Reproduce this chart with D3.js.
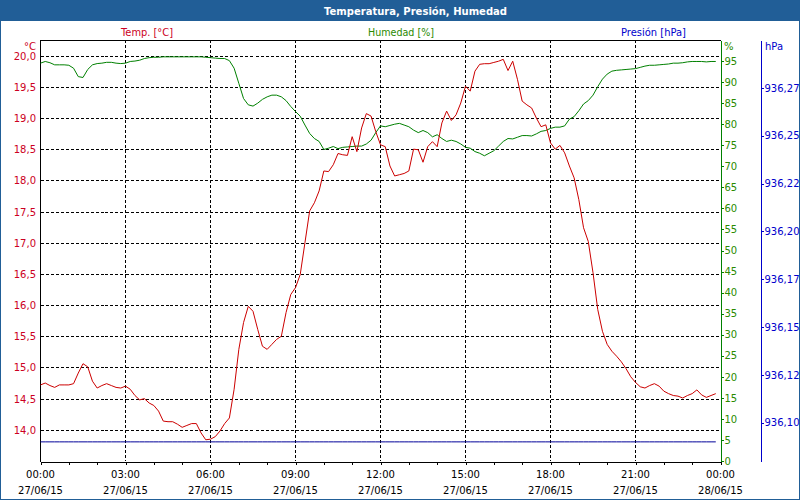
<!DOCTYPE html>
<html>
<head>
<meta charset="utf-8">
<script src="https://cdn.jsdelivr.net/npm/d3@7"></script>
<style>
  body { margin: 0; background: #fff; }
  svg { display: block; font-family: "DejaVu Sans", Verdana, sans-serif; }
</style>
</head>
<body>
<div id="chart"></div>
<script>
// readings every 10 minutes, 27/06/15 00:00 .. 23:50
var temperatura = [
    14.72, 14.75, 14.71, 14.68, 14.72, 14.72, 14.72, 14.74, 14.91, 15.06,
    15.01, 14.78, 14.67, 14.71, 14.74, 14.71, 14.68, 14.67, 14.70, 14.65,
    14.55, 14.48, 14.50, 14.43, 14.39, 14.30, 14.14, 14.13, 14.13, 14.09,
    14.04, 14.07, 14.10, 14.10, 13.95, 13.84, 13.85, 13.89, 13.98, 14.10,
    14.19, 14.65, 15.29, 15.72, 15.98, 15.90, 15.61, 15.34, 15.29, 15.37,
    15.45, 15.50, 15.88, 16.17, 16.28, 16.49, 17.00, 17.51, 17.64, 17.83,
    18.15, 18.14, 18.25, 18.43, 18.41, 18.40, 18.70, 18.46, 18.84, 19.07,
    19.03, 18.78, 18.57, 18.54, 18.23, 18.07, 18.09, 18.11, 18.15, 18.50,
    18.49, 18.29, 18.54, 18.62, 18.54, 18.92, 19.11, 18.96, 19.05, 19.24,
    19.51, 19.43, 19.75, 19.86, 19.87, 19.87, 19.89, 19.91, 19.94, 19.76,
    19.91, 19.62, 19.27, 19.21, 19.16, 19.00, 18.86, 18.89, 18.60, 18.50,
    18.56, 18.44, 18.23, 18.04, 17.69, 17.24, 17.02, 16.52, 15.93, 15.58,
    15.37, 15.26, 15.18, 15.09, 14.98, 14.85, 14.76, 14.69, 14.67, 14.71,
    14.74, 14.70, 14.62, 14.58, 14.55, 14.54, 14.51, 14.55, 14.58, 14.64,
    14.56, 14.52, 14.55, 14.58
];

var humedad = [
    94.5, 94.9, 94.6, 94.1, 94.1, 94.1, 94.0, 93.3, 91.3, 91.1,
    93.0, 94.1, 94.4, 94.5, 94.7, 94.7, 94.5, 94.4, 94.5, 94.9,
    95.0, 95.2, 95.6, 95.8, 95.9, 95.9, 96.0, 96.0, 96.0, 96.0,
    96.0, 96.0, 96.0, 96.0, 96.0, 95.9, 95.8, 95.7, 95.6, 95.6,
    95.1, 93.3, 89.7, 86.1, 84.6, 84.3, 85.0, 85.9, 86.5, 86.9,
    86.9, 86.5, 85.6, 84.2, 83.0, 81.9, 79.8, 77.8, 76.6, 75.9,
    74.0, 74.3, 74.7, 74.2, 74.5, 74.6, 74.7, 74.8, 74.8, 75.3,
    76.2, 78.0, 79.6, 79.4, 79.7, 80.0, 80.2, 79.8, 79.4, 78.6,
    78.0, 78.5, 78.0, 77.0, 77.5, 76.6, 75.9, 76.2, 75.9, 75.3,
    74.5, 74.3, 73.5, 73.1, 72.5, 73.1, 73.7, 74.8, 75.9, 76.6,
    76.5, 76.9, 77.3, 77.3, 77.2, 77.7, 78.3, 78.5, 79.0, 79.3,
    79.3, 79.6, 81.2, 81.8, 83.2, 84.8, 85.6, 86.9, 88.9, 90.7,
    91.9, 92.6, 92.8, 92.9, 93.0, 93.1, 93.2, 93.5, 93.8, 94.0,
    94.0, 94.1, 94.2, 94.3, 94.5, 94.5, 94.6, 94.8, 94.9, 94.9,
    94.9, 94.8, 94.9, 94.9
];

var presion = [
    936.09, 936.09, 936.09, 936.09, 936.09, 936.09, 936.09, 936.09, 936.09, 936.09, 936.09, 936.09,
    936.09, 936.09, 936.09, 936.09, 936.09, 936.09, 936.09, 936.09, 936.09, 936.09, 936.09, 936.09,
    936.09, 936.09, 936.09, 936.09, 936.09, 936.09, 936.09, 936.09, 936.09, 936.09, 936.09, 936.09,
    936.09, 936.09, 936.09, 936.09, 936.09, 936.09, 936.09, 936.09, 936.09, 936.09, 936.09, 936.09,
    936.09, 936.09, 936.09, 936.09, 936.09, 936.09, 936.09, 936.09, 936.09, 936.09, 936.09, 936.09,
    936.09, 936.09, 936.09, 936.09, 936.09, 936.09, 936.09, 936.09, 936.09, 936.09, 936.09, 936.09,
    936.09, 936.09, 936.09, 936.09, 936.09, 936.09, 936.09, 936.09, 936.09, 936.09, 936.09, 936.09,
    936.09, 936.09, 936.09, 936.09, 936.09, 936.09, 936.09, 936.09, 936.09, 936.09, 936.09, 936.09,
    936.09, 936.09, 936.09, 936.09, 936.09, 936.09, 936.09, 936.09, 936.09, 936.09, 936.09, 936.09,
    936.09, 936.09, 936.09, 936.09, 936.09, 936.09, 936.09, 936.09, 936.09, 936.09, 936.09, 936.09,
    936.09, 936.09, 936.09, 936.09, 936.09, 936.09, 936.09, 936.09, 936.09, 936.09, 936.09, 936.09,
    936.09, 936.09, 936.09, 936.09, 936.09, 936.09, 936.09, 936.09, 936.09, 936.09, 936.09, 936.09
];

var tempTicks = [14.0, 14.5, 15.0, 15.5, 16.0, 16.5, 17.0, 17.5, 18.0, 18.5, 19.0, 19.5, 20.0];
var humTicks = [0, 5, 10, 15, 20, 25, 30, 35, 40, 45, 50, 55, 60, 65, 70, 75, 80, 85, 90, 95];
var presTicks = [936.100, 936.125, 936.150, 936.175, 936.200, 936.225, 936.250, 936.275];
var presLabels = ['936,10', '936,12', '936,15', '936,17', '936,20', '936,22', '936,25', '936,27'];
var hourTicks = [0, 1, 2, 3, 4, 5, 6, 7, 8, 9, 10, 11, 12, 13, 14, 15, 16, 17, 18, 19, 20, 21, 22, 23, 24];
var timeTicks = [0, 3, 6, 9, 12, 15, 18, 21, 24];
var timeLabels = ['00:00', '03:00', '06:00', '09:00', '12:00', '15:00', '18:00', '21:00', '00:00'];
var dateLabels = ['27/06/15', '27/06/15', '27/06/15', '27/06/15', '27/06/15', '27/06/15', '27/06/15', '27/06/15', '28/06/15'];

var width = 800, height = 500;
var plot = {left: 40.5, right: 720.5, top: 40, bottom: 461};

var barBlue = '#215e97';
var red = '#cc0000', redText = '#cc0022';
var green = '#008000', greenText = '#2a8a00';
var blue = '#0000cc', navy = '#000099';

var horas = temperatura.map(function(d, i) { return i / 6; });

var x = d3.scaleLinear().domain([0, 24]).range([plot.left, plot.right]);
var yT = d3.scaleLinear().domain([13.5, 20.25]).range([plot.bottom, plot.top]);
var yH = d3.scaleLinear().domain([0, 100]).range([plot.bottom, plot.top]);
var yP = d3.scaleLinear().domain([936.08, 936.30]).range([plot.bottom, plot.top]);

var fmt = d3.formatLocale({decimal: ',', thousands: '.', grouping: [3], currency: ['', '']}).format('.1f');

var svg = d3.select('#chart')
    .append('svg')
    .attr('width', width)
    .attr('height', height);

svg.append('rect').attr('width', width).attr('height', height).attr('fill', '#fff');

// title bar
svg.append('rect')
    .attr('x', 0).attr('y', 0)
    .attr('width', width).attr('height', 21)
    .attr('fill', barBlue);
svg.append('text')
    .attr('x', 324).attr('y', 15)
    .attr('textLength', 183).attr('lengthAdjust', 'spacingAndGlyphs')
    .style('font-size', '11px').style('font-weight', 'bold')
    .attr('fill', '#fff')
    .text('Temperatura, Presión, Humedad');

// series names
var headers = [
    {t: 'Temp. [°C]', x: 147, w: 52, c: redText},
    {t: 'Humedad [%]', x: 401, w: 66, c: greenText},
    {t: 'Presión [hPa]', x: 653.5, w: 65, c: blue}
];
svg.selectAll('.hdr')
    .data(headers)
    .enter()
    .append('text')
    .attr('x', function(d) { return d.x; })
    .attr('y', 36)
    .attr('text-anchor', 'middle')
    .attr('textLength', function(d) { return d.w; })
    .attr('lengthAdjust', 'spacingAndGlyphs')
    .attr('fill', function(d) { return d.c; })
    .style('font-size', '10px')
    .text(function(d) { return d.t; });

// grid
var grid = svg.append('g')
    .attr('stroke', '#000')
    .attr('stroke-width', 1)
    .attr('stroke-dasharray', '3,2')
    .attr('shape-rendering', 'crispEdges');

grid.selectAll('.hg')
    .data(tempTicks)
    .enter()
    .append('line')
    .attr('x1', plot.left).attr('x2', plot.right)
    .attr('y1', function(d) { return Math.round(yT(d)) + 0.5; })
    .attr('y2', function(d) { return Math.round(yT(d)) + 0.5; });

grid.selectAll('.vg')
    .data(timeTicks.slice(1, -1))
    .enter()
    .append('line')
    .attr('x1', function(d) { return x(d); })
    .attr('x2', function(d) { return x(d); })
    .attr('y1', plot.top).attr('y2', plot.bottom);

// frame: top and left
svg.append('path')
    .attr('d', 'M' + plot.right + ',40.5H' + plot.left + 'V' + (plot.bottom + 0.5))
    .attr('fill', 'none')
    .attr('stroke', '#000')
    .attr('shape-rendering', 'crispEdges');

// series lines
function drawLine(values, yScale, color) {
    var line = d3.line()
        .x(function(d, i) { return x(horas[i]); })
        .y(function(d) { return yScale(d); });
    svg.append('path')
        .datum(values)
        .attr('d', line)
        .attr('fill', 'none')
        .attr('stroke', color)
        .attr('stroke-width', 1);
}
drawLine(presion, yP, navy);
drawLine(humedad, yH, green);
drawLine(temperatura, yT, red);

// bottom axis
var xAxis = svg.append('g')
    .attr('transform', 'translate(0,' + (plot.bottom + 0.5) + ')')
    .call(d3.axisBottom(x).tickValues(hourTicks).tickSize(3).tickSizeOuter(0).tickFormat(''));
xAxis.selectAll('path, line').attr('stroke', '#000').attr('shape-rendering', 'crispEdges');

var xl = svg.selectAll('.xl')
    .data(timeTicks)
    .enter()
    .append('text')
    .attr('text-anchor', 'middle')
    .attr('fill', '#000')
    .style('font-size', '10px');
xl.append('tspan')
    .attr('x', function(d) { return x(d); })
    .attr('y', 478)
    .text(function(d, i) { return timeLabels[i]; });
xl.append('tspan')
    .attr('x', function(d) { return x(d); })
    .attr('y', 494)
    .text(function(d, i) { return dateLabels[i]; });

// left axis (temperature)
svg.selectAll('.tl')
    .data(tempTicks)
    .enter()
    .append('text')
    .attr('x', 36)
    .attr('y', function(d) { return Math.round(yT(d)) + 0.5; })
    .attr('dy', '0.36em')
    .attr('text-anchor', 'end')
    .attr('fill', redText)
    .style('font-size', '10px')
    .text(function(d) { return fmt(d); });
svg.append('text')
    .attr('x', 36).attr('y', 50)
    .attr('text-anchor', 'end')
    .attr('fill', redText)
    .style('font-size', '10px')
    .text('°C');

// right axis (humidity)
var hAxis = svg.append('g')
    .attr('transform', 'translate(720.5,0)')
    .call(d3.axisRight(yH).tickValues(humTicks).tickSize(3).tickSizeOuter(0).tickPadding(1));
hAxis.selectAll('path, line').attr('stroke', green).attr('shape-rendering', 'crispEdges');
hAxis.selectAll('text').attr('fill', greenText).style('font-size', '10px').style('font-family', null);
hAxis.attr('font-family', null).attr('font-size', null);
svg.append('text')
    .attr('x', 724).attr('y', 50)
    .attr('fill', greenText)
    .style('font-size', '10px')
    .text('%');

// far right axis (pressure)
var pAxis = svg.append('g')
    .attr('transform', 'translate(760.5,0)')
    .call(d3.axisRight(yP).tickValues(presTicks).tickSize(3).tickSizeOuter(0).tickPadding(1)
        .tickFormat(function(d, i) { return presLabels[i]; }));
pAxis.selectAll('path, line').attr('stroke', blue).attr('shape-rendering', 'crispEdges');
pAxis.selectAll('text').attr('fill', blue).style('font-size', '10px');
pAxis.attr('font-family', null).attr('font-size', null);
svg.append('text')
    .attr('x', 765).attr('y', 50)
    .attr('fill', blue)
    .style('font-size', '10px')
    .text('hPa');

// window border
svg.append('rect')
    .attr('x', 0).attr('y', 0)
    .attr('width', width).attr('height', height)
    .attr('fill', 'none')
    .attr('stroke', barBlue)
    .attr('stroke-width', 2);
</script>
</body>
</html>
